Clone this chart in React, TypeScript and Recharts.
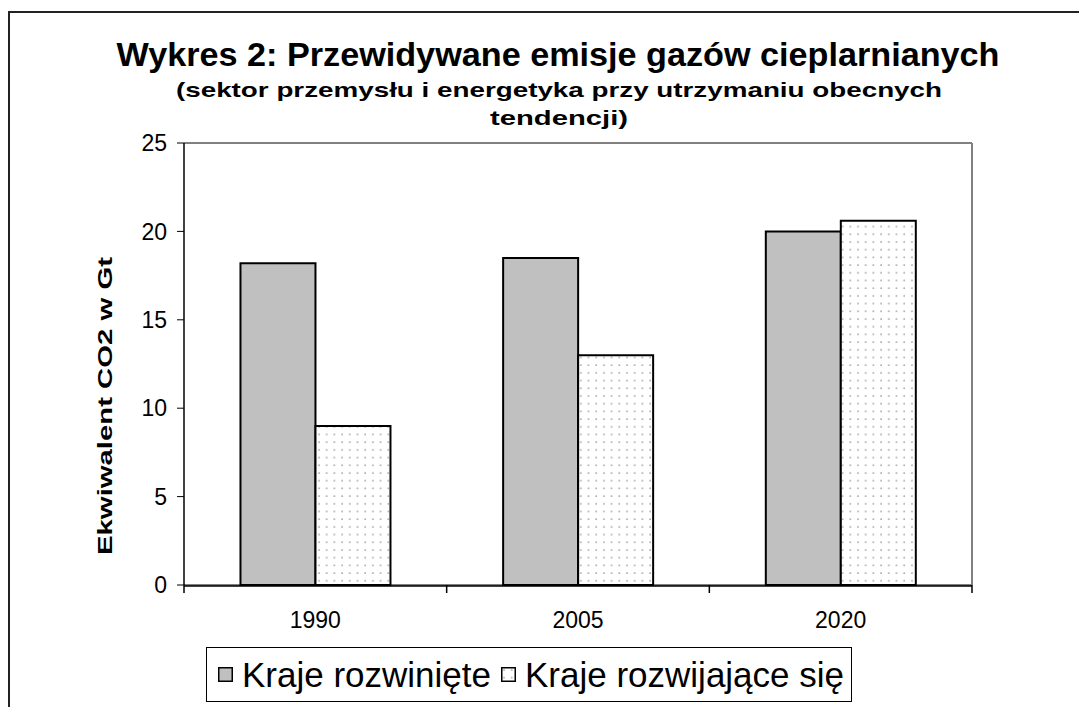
import { BarChart, Bar, XAxis, YAxis, CartesianGrid } from 'recharts'

const YEARS = ['1990', '2005', '2020']
const DEVELOPED = [18.2, 18.5, 20.0]
const DEVELOPING = [9.0, 13.0, 20.6]
const Y_TICKS = [0, 5, 10, 15, 20, 25]
const BOUNDARY_TICKS = [0, 1, 2, 3]
const SERIES_NAMES = ['Kraje rozwinięte', 'Kraje rozwijające się']

const TITLE = 'Wykres 2: Przewidywane emisje gazów cieplarnianych'
const SUBTITLE_1 = '(sektor przemysłu i energetyka przy utrzymaniu obecnych'
const SUBTITLE_2 = 'tendencji)'
const Y_LABEL = 'Ekwiwalent CO2 w Gt'

const data = YEARS.map((year, i) => ({
  year,
  pos: i + 0.5,
  developed: DEVELOPED[i],
  developing: DEVELOPING[i],
}))

const FONT = '"Liberation Sans", Arial, sans-serif'
const GREY = '#c0c0c0'

function LegendBox() {
  const icon = (fill: string) => (
    <svg width={15} height={15} style={{ display: 'block', flex: 'none' }}>
      <rect x={0.75} y={0.75} width={13.5} height={13.5} fill={fill} stroke="#000" strokeWidth={1.5} />
    </svg>
  )
  return (
    <div
      style={{
        position: 'absolute',
        left: 198,
        top: 639,
        boxSizing: 'border-box',
        width: 646,
        height: 55,
        border: '1px solid #000',
        display: 'flex',
        alignItems: 'center',
        paddingLeft: 11,
        fontFamily: FONT,
        fontSize: 35,
        color: '#000',
        background: '#fff',
        whiteSpace: 'nowrap',
      }}
    >
      {icon(GREY)}
      <span style={{ marginLeft: 9, marginRight: 10 }}>{SERIES_NAMES[0]}</span>
      {icon('url(#dots)')}
      <span style={{ marginLeft: 9 }}>{SERIES_NAMES[1]}</span>
    </div>
  )
}

export default function App() {
  return (
    <div style={{ position: 'relative', width: 1079, height: 699, background: '#fff' }}>
      <svg width={0} height={0} style={{ position: 'absolute' }}>
        <defs>
          <pattern id="dots" width={7.7} height={7.7} patternUnits="userSpaceOnUse">
            <rect width={7.7} height={7.7} fill="#fff" />
            <circle cx={3} cy={3} r={0.9} fill="#9a9a9a" />
          </pattern>
        </defs>
      </svg>
      <div
        style={{
          position: 'absolute',
          left: 0,
          top: 3,
          width: 1079,
          height: 696,
          boxSizing: 'border-box',
          borderLeft: '2px solid #222',
          borderTop: '2px solid #222',
        }}
      />
      <BarChart
        width={1079}
        height={699}
        data={data}
        margin={{ top: 134, right: 114, bottom: 61, left: 116 }}
        barGap={0}
        barCategoryGap="21.5%"
      >
        <CartesianGrid horizontal vertical={false} stroke="#000" strokeWidth={1} />
        <XAxis xAxisId="bound" type="number" dataKey="pos" domain={[0, 3]} ticks={BOUNDARY_TICKS} allowDataOverflow
          height={1} axisLine={false} tickFormatter={() => ''} tickSize={8}
          tickLine={{ stroke: '#000', strokeWidth: 1.5 }} />
        <XAxis xAxisId="cat" dataKey="year" height={60} axisLine={{ stroke: '#000', strokeWidth: 1.5 }} tickLine={false}
          tickSize={0} tickMargin={26} tick={{ fill: '#000', fontSize: 23, fontFamily: FONT }} />
        <XAxis xAxisId="top" orientation="top" dataKey="year" height={1} tick={false} tickLine={false}
          axisLine={{ stroke: '#808080', strokeWidth: 2 }} />
        <YAxis yAxisId="left" width={60} domain={[0, 25]} ticks={Y_TICKS} axisLine={{ stroke: '#000', strokeWidth: 1.5 }}
          tickLine={{ stroke: '#000' }} tickSize={7} tickMargin={10}
          tick={{ fill: '#000', fontSize: 23, fontFamily: FONT }} />
        <YAxis yAxisId="right" orientation="right" width={1} domain={[0, 25]} tick={false} tickLine={false}
          axisLine={{ stroke: '#808080', strokeWidth: 2 }} />
        <Bar xAxisId="cat" yAxisId="left" dataKey="developed" name={SERIES_NAMES[0]} fill={GREY} stroke="#000"
          strokeWidth={2} isAnimationActive={false} />
        <Bar xAxisId="cat" yAxisId="left" dataKey="developing" name={SERIES_NAMES[1]} fill="url(#dots)" stroke="#000"
          strokeWidth={2} isAnimationActive={false} />
      </BarChart>
      <LegendBox />
      <svg width={1079} height={699} style={{ position: 'absolute', left: 0, top: 0, pointerEvents: 'none' }}>
        <text x={550} y={58} textAnchor="middle" fontFamily={FONT} fontWeight="bold" fontSize={33}
          textLength={883} lengthAdjust="spacingAndGlyphs">{TITLE}</text>
        <text x={551} y={89} textAnchor="middle" fontFamily={FONT} fontWeight="bold" fontSize={21}
          textLength={766} lengthAdjust="spacingAndGlyphs">{SUBTITLE_1}</text>
        <text x={551} y={117} textAnchor="middle" fontFamily={FONT} fontWeight="bold" fontSize={21}
          textLength={138} lengthAdjust="spacingAndGlyphs">{SUBTITLE_2}</text>
        <text x={0} y={0} textAnchor="middle" fontFamily={FONT} fontWeight="bold" fontSize={20}
          textLength={298} lengthAdjust="spacingAndGlyphs" transform="translate(104 398) rotate(-90)">{Y_LABEL}</text>
      </svg>
    </div>
  )
}
